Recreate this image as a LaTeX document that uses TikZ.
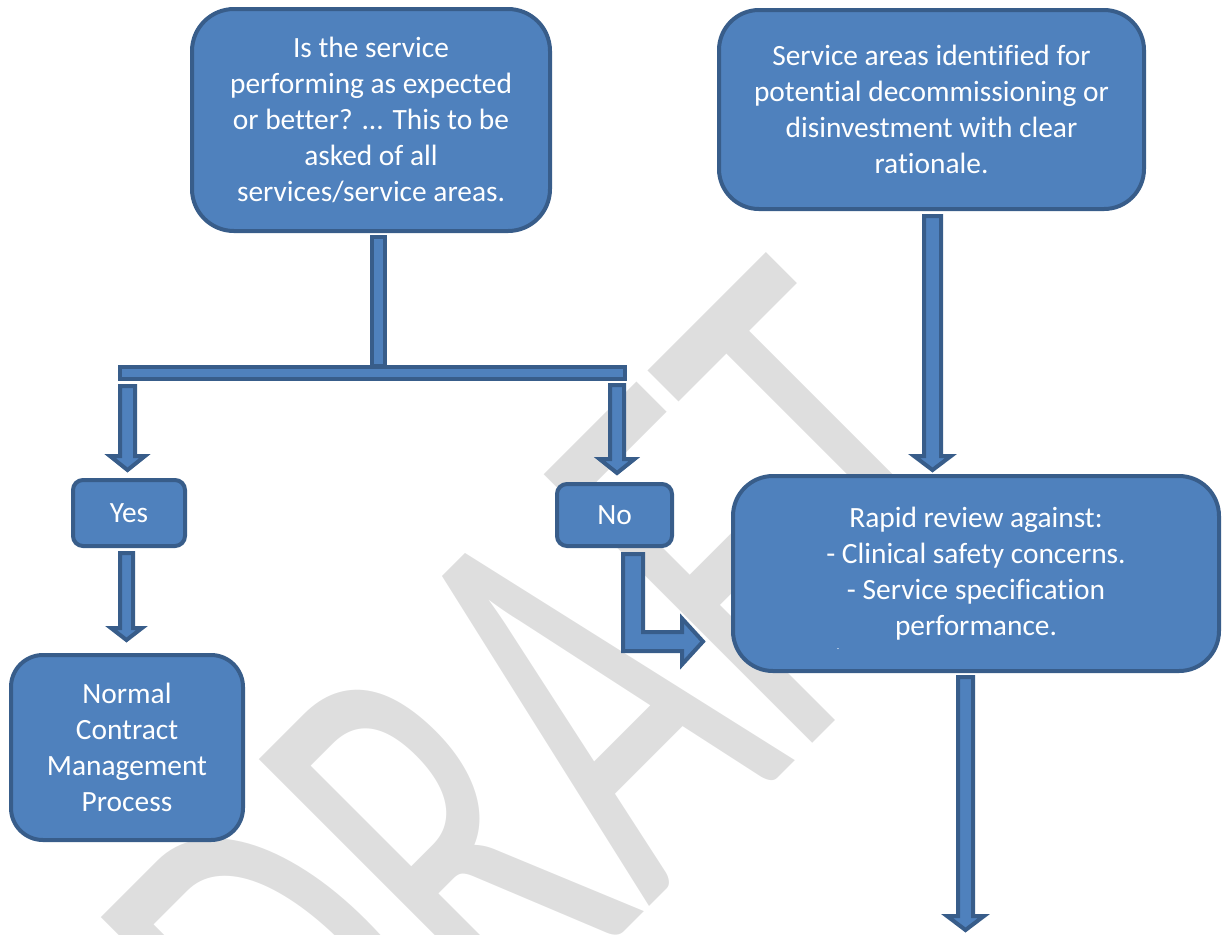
\documentclass[tikz,border=0pt]{standalone}
\usepackage{fontspec}
\usepackage{graphicx}
\setmainfont{Carlito}[Ligatures=NoCommon]
\usetikzlibrary{calc}

\definecolor{boxfill}{HTML}{4F81BD}
\definecolor{boxline}{HTML}{385D8A}
\definecolor{wmgray}{HTML}{DEDEDE}

% block arrow pointing down: start, tip, shaft half width, head half width, head length
\newcommand{\blockdown}[5]{%
  \draw[flowarrow] ($(#1)+(-#3,0)$) -- ($(#2)+(-#3,-#5)$) -- ($(#2)+(-#4,-#5)$) -- (#2)
    -- ($(#2)+(#4,-#5)$) -- ($(#2)+(#3,-#5)$) -- ($(#1)+(#3,0)$) -- cycle;}

\begin{document}
\begin{tikzpicture}[x=0.5pt, y=-0.5pt,
    box/.style={draw=boxline, fill=boxfill, line width=2pt, rounded corners=20pt, inner sep=0pt,
      text=white, align=center, font=\fontsize{14.7}{18}\selectfont},
    smallbox/.style={box, rounded corners=5pt},
    flowarrow/.style={draw=boxline, fill=boxfill, line width=2pt}]
    \useasboundingbox (0,0) rectangle (1223,934);
    \clip (0,0) rectangle (1223,934);

    % Watermark
    \node[rotate=45, anchor=base, inner sep=0pt, text=wmgray, font=\fontsize{296}{296}\selectfont]
        (wm) at (695,861) {\scalebox{0.61}[1]{DRAFT}};

    % Boxes
    \node[box, rounded corners=21pt, minimum width=179pt, minimum height=111pt] (q) at (371,120)
        {Is the service\\performing as expected\\or better? ... This to be\\asked of all\\services/service areas.};
    \node[box, minimum width=212.5pt, minimum height=99.5pt] (sa) at (931.5,109.5)
        {Service areas identified for\\potential decommissioning or\\disinvestment with clear\\rationale.};
    \node[smallbox, minimum width=56pt, minimum height=33pt] (yes) at (129,513) {Yes};
    \node[smallbox, minimum width=57.5pt, minimum height=31pt] (no) at (614.5,515) {No};
    \node[box, minimum width=243pt, minimum height=97.5pt] (rr) at (976,573.5)
        {Rapid review against:\\- Clinical safety concerns.\\- Service specification\\performance.};
    \node[text=white, inner sep=0pt, font=\fontsize{4}{4}\selectfont] (dash) at (838,650) {-};
    \node[box, rounded corners=16pt, minimum width=116pt, minimum height=92.5pt] (ncm) at (127,747.5)
        {Normal\\Contract\\Management\\Process};

    % Split bar
    \coordinate (barL) at (120,367);
    \coordinate (barR) at (625,379);
    \draw[flowarrow] ($(q.south)+(0.5,4)$) rectangle ($(q.south)+(13.5,133)$);
    \draw[flowarrow] (barL) rectangle (barR);

    % Arrows
    \coordinate (t1) at ($(yes.north)+(-1.5,-8)$);
    \coordinate (s1) at ($(t1 |- barR)+(0,7)$);
    \blockdown{s1}{t1}{7.5}{17.5}{14}

    \coordinate (t2) at ($(no.north)+(2.5,-9)$);
    \coordinate (s2) at ($(t2 |- barR)+(0,6)$);
    \blockdown{s2}{t2}{7}{17.5}{14}

    \coordinate (s3) at ($(yes.south)+(-2.5,5)$);
    \coordinate (t3) at ($(s3 |- ncm.north)+(0,-13)$);
    \blockdown{s3}{t3}{6.5}{15.5}{12}

    \coordinate (s4) at ($(sa.south)+(1,5)$);
    \coordinate (t4) at ($(s4 |- rr.north)+(0,-4)$);
    \blockdown{s4}{t4}{8.5}{18.5}{14}

    \coordinate (s5) at ($(rr.south)+(-10.5,4)$);
    \coordinate (t5) at ($(s5)+(0,253)$);
    \blockdown{s5}{t5}{7.5}{18.5}{14}

    % No -> review
    \coordinate (s6) at ($(no.south)+(18.5,6)$);
    \coordinate (t6) at ($(rr.west)+(-28,68)$);
    \draw[flowarrow] ($(s6)+(-10,0)$) |- ($(t6)+(-21,9.5)$) -- ($(t6)+(-21,23)$) -- (t6)
        -- ($(t6)+(-21,-23)$) -- ($(t6)+(-21,-9.5)$) -| ($(s6)+(10,0)$) -- cycle;
\end{tikzpicture}
\end{document}
